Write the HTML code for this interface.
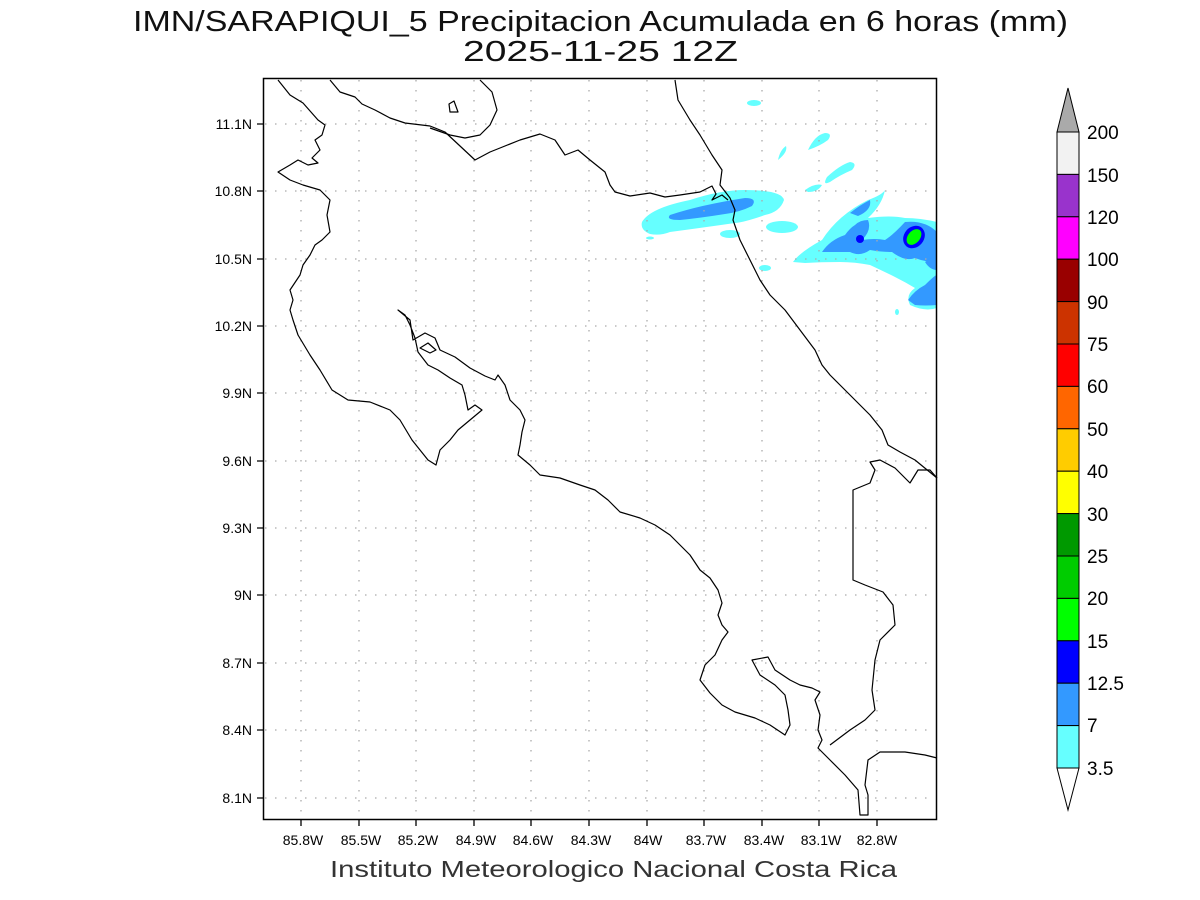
<!DOCTYPE html>
<html><head><meta charset="utf-8"><style>
body{margin:0;background:#fff;}
svg{display:block;font-family:"Liberation Sans","DejaVu Sans",sans-serif;}
</style></head><body>
<svg width="1200" height="900" viewBox="0 0 1200 900" xmlns="http://www.w3.org/2000/svg">
<rect width="1200" height="900" fill="#fff"/>
<text x="133" y="31" font-size="29" fill="#111" textLength="935" lengthAdjust="spacingAndGlyphs">IMN/SARAPIQUI_5 Precipitacion Acumulada en 6 horas (mm)</text>
<text x="463" y="61" font-size="29" fill="#111" textLength="275" lengthAdjust="spacingAndGlyphs">2025-11-25 12Z</text>

<!-- precipitation -->
<g stroke="none">
<path fill="#66ffff" d="M642,222 Q650,208 690,200 Q720,190 745,190 Q782,190 784,200 Q780,212 765,215 Q745,222 735,223 Q700,228 670,232 Q660,236 650,234 Q640,230 642,222Z"/>
<path fill="#3399ff" d="M670,215 Q700,205 745,198 Q758,198 752,206 Q740,212 725,214 Q700,218 680,220 Q665,220 670,215Z"/>
<ellipse cx="782" cy="227" rx="16" ry="6" fill="#66ffff"/>
<ellipse cx="730" cy="234" rx="10" ry="4" fill="#66ffff"/>
<ellipse cx="650" cy="238" rx="4" ry="1.5" fill="#66ffff"/>
<ellipse cx="765" cy="268" rx="6" ry="3" fill="#66ffff"/>
<ellipse cx="754" cy="103" rx="7" ry="3" fill="#66ffff"/>
<path fill="#66ffff" d="M808,150 Q815,135 825,133 Q833,133 828,140 Q820,146 808,150Z"/>
<path fill="#66ffff" d="M778,160 Q780,150 786,146 Q788,152 778,160Z"/>
<path fill="#66ffff" d="M827,177 Q840,165 850,162 Q858,163 852,170 Q840,175 830,182 Q822,186 827,177Z"/>
<path fill="#66ffff" d="M805,190 Q815,183 822,185 Q818,192 808,192Z"/>
<path fill="#66ffff" d="M793,262 Q800,252 822,240 Q838,215 868,200 Q882,195 885,190 Q882,205 868,218 Q890,215 905,218 Q920,218 937,222 L937,308 Q925,312 910,305 Q905,295 915,288 Q905,282 895,277 Q885,272 870,265 Q855,262 840,262 Q820,262 805,263Z"/>
<path fill="#3399ff" d="M822,252 Q830,240 845,235 Q850,228 855,225 Q860,220 868,220 Q872,230 862,240 Q875,238 885,240 Q893,235 905,222 Q925,220 937,232 L937,262 Q925,262 915,258 Q905,262 892,252 Q880,252 870,250 Q860,257 850,252 Q838,252 822,252Z"/>
<path fill="#3399ff" d="M850,213 Q860,205 870,200 Q872,210 858,216Z"/>
<path fill="#3399ff" d="M908,300 Q915,290 925,285 Q935,275 937,275 L937,305 Q925,306 915,305Z"/>
<path fill="#3399ff" d="M925,262 Q935,255 937,256 L937,270 Q930,270 925,262Z"/>
<ellipse cx="860" cy="239" rx="4" ry="4" fill="#0000ff"/>
<ellipse cx="914" cy="237" rx="12" ry="10" fill="#0000ff" transform="rotate(-50 914 237)"/>
<ellipse cx="914" cy="237" rx="9" ry="6" fill="#00ff00" transform="rotate(-50 914 237)"/>
<ellipse cx="897" cy="312" rx="2" ry="3" fill="#66ffff"/>
</g>

<!-- grid -->
<g stroke="#aaa" stroke-width="1.3" stroke-dasharray="1.5 8.5" fill="none">
<path d="M301,80V818M359,80V818M416,80V818M474,80V818M531,80V818M589,80V818M647,80V818M704,80V818M762,80V818M819,80V818M877,80V818"/>
<path d="M265,124H935M265,191H935M265,259H935M265,326H935M265,393H935M265,461H935M265,528H935M265,595H935M265,663H935M265,730H935M265,798H935"/>
</g>

<!-- coastlines -->
<g stroke="#000" stroke-width="1.2" fill="none" stroke-linejoin="round">
<polyline points="278,80 290,95 303,103 318,120 325,125 322,135 315,140 320,150 312,158 318,163 308,165 298,160 290,165 278,172 290,180 303,185 320,190 330,200 327,215 330,232 322,240 315,245 310,255 303,265 300,275 290,290 293,300 290,310 293,320 298,335 310,355 320,370 332,390 348,400 370,402 390,410 400,420 412,440 428,460 436,465 440,450 450,440 458,430 470,420 482,410 475,405 468,410 465,395 462,385 450,378 438,370 428,365 418,352 415,338 410,325 405,315 398,310 410,320 413,340 425,333 435,338 440,350 455,357 470,368 485,376 495,380 498,375 505,385 510,400 520,410 525,420 522,432 520,445 518,455 530,465 540,475 560,478 580,485 595,490 608,500 620,512 640,518 655,525 670,535 690,555 700,570 710,578 718,590 722,603 718,615 722,625 728,632 722,640 715,655 705,665 700,680 710,693 722,705 735,712 755,718 770,725 785,735 790,725 788,710 785,695 775,685 760,675 752,660 768,657 775,670 790,680 800,685 812,688 820,692 815,700 820,715 818,730 822,740 818,748 830,760 845,775 858,790 860,815 868,815 868,795 865,785 868,760 880,752 905,752 925,755 937,758"/>
<polygon points="420,348 428,343 436,350 430,353"/>
<polyline points="830,745 850,730 865,720 875,710 872,690 875,660 880,640 895,625 893,605 883,592 865,585 853,580 853,490 870,483 875,470 870,462 880,460 895,468 910,483 918,470 930,470 937,478"/>
<polyline points="675,80 678,100 690,120 700,135 712,155 722,170 720,185 730,198 735,210 733,220 740,240 750,260 760,280 770,295 785,310 800,330 815,350 822,365 830,375 840,385 855,400 870,415 882,430 888,445 900,452 915,460 937,478"/>
<polyline points="330,80 340,92 355,97 362,104 375,110 390,118 405,123 430,126 445,132 460,146 475,160 490,152 500,148 520,140 540,134 555,140 565,155 578,150 590,160 605,172 610,185 615,192 630,196 650,193 665,197 680,195 700,192 712,186 716,194 712,200 722,195 728,200"/>
<polyline points="480,80 492,92 497,110 490,125 480,135 465,138 450,135 430,128"/>
<polygon points="449,104 454,101 458,112 450,112"/>
</g>

<!-- frame -->
<rect x="263.5" y="78.5" width="673" height="741" fill="none" stroke="#000" stroke-width="1.5"/>
<g stroke="#000" stroke-width="1.3">
<path d="M301,820v6M359,820v6M416,820v6M474,820v6M531,820v6M589,820v6M647,820v6M704,820v6M762,820v6M819,820v6M877,820v6"/>
<path d="M257,124h6M257,191h6M257,259h6M257,326h6M257,393h6M257,461h6M257,528h6M257,595h6M257,663h6M257,730h6M257,798h6"/>
</g>
<g font-size="14" fill="#000" text-anchor="middle">
<text x="303" y="845">85.8W</text><text x="361" y="845">85.5W</text><text x="418" y="845">85.2W</text><text x="476" y="845">84.9W</text><text x="533" y="845">84.6W</text><text x="591" y="845">84.3W</text><text x="648" y="845">84W</text><text x="706" y="845">83.7W</text><text x="764" y="845">83.4W</text><text x="821" y="845">83.1W</text><text x="877" y="845">82.8W</text>
</g>
<g font-size="14" fill="#000" text-anchor="end">
<text x="252" y="129">11.1N</text><text x="252" y="196">10.8N</text><text x="252" y="264">10.5N</text><text x="252" y="331">10.2N</text><text x="252" y="398">9.9N</text><text x="252" y="466">9.6N</text><text x="252" y="533">9.3N</text><text x="252" y="600">9N</text><text x="252" y="668">8.7N</text><text x="252" y="735">8.4N</text><text x="252" y="803">8.1N</text>
</g>
<text x="330" y="877" font-size="23" fill="#333" textLength="567" lengthAdjust="spacingAndGlyphs">Instituto Meteorologico Nacional Costa Rica</text>

<!-- colorbar -->
<g stroke="#000" stroke-width="1">
<polygon points="1057,132 1079,132 1068,88" fill="#aaa"/>
<rect x="1057" y="132" width="22" height="42.4" fill="#f2f2f2"/>
<rect x="1057" y="174.4" width="22" height="42.4" fill="#9933cc"/>
<rect x="1057" y="216.8" width="22" height="42.4" fill="#ff00ff"/>
<rect x="1057" y="259.2" width="22" height="42.4" fill="#990000"/>
<rect x="1057" y="301.6" width="22" height="42.4" fill="#cc3300"/>
<rect x="1057" y="344" width="22" height="42.4" fill="#ff0000"/>
<rect x="1057" y="386.4" width="22" height="42.4" fill="#ff6600"/>
<rect x="1057" y="428.8" width="22" height="42.4" fill="#ffcc00"/>
<rect x="1057" y="471.2" width="22" height="42.4" fill="#ffff00"/>
<rect x="1057" y="513.6" width="22" height="42.4" fill="#009900"/>
<rect x="1057" y="556" width="22" height="42.4" fill="#00cc00"/>
<rect x="1057" y="598.4" width="22" height="42.4" fill="#00ff00"/>
<rect x="1057" y="640.8" width="22" height="42.4" fill="#0000ff"/>
<rect x="1057" y="683.2" width="22" height="42.4" fill="#3399ff"/>
<rect x="1057" y="725.6" width="22" height="42.4" fill="#66ffff"/>
<polygon points="1057,768 1079,768 1068,810" fill="#fff"/>
</g>
<g font-size="19" fill="#000">
<text x="1087" y="139">200</text><text x="1087" y="182">150</text><text x="1087" y="224">120</text><text x="1087" y="266">100</text><text x="1087" y="309">90</text><text x="1087" y="351">75</text><text x="1087" y="393">60</text><text x="1087" y="436">50</text><text x="1087" y="478">40</text><text x="1087" y="521">30</text><text x="1087" y="563">25</text><text x="1087" y="605">20</text><text x="1087" y="648">15</text><text x="1087" y="690">12.5</text><text x="1087" y="732">7</text><text x="1087" y="775">3.5</text>
</g>
</svg>
</body></html>
